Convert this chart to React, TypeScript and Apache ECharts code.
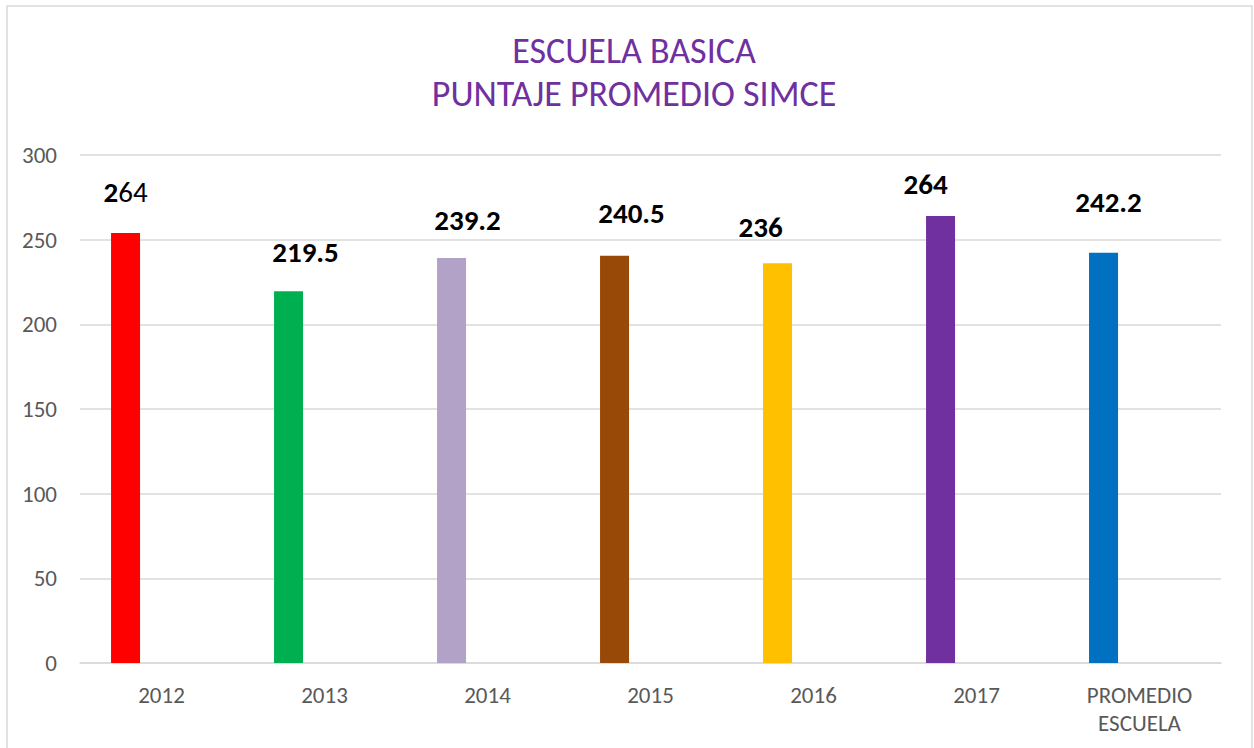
import React, { useEffect, useRef } from "react";
import * as echarts from "echarts";

const categories = ["2012", "2013", "2014", "2015", "2016", "2017", "PROMEDIO\nESCUELA"];
const values = [254, 219.5, 239.2, 240.5, 236, 264, 242.2];
const labelTexts = ["264", "219.5", "239.2", "240.5", "236", "264", "242.2"];
const barColors = ["#FF0000", "#00B050", "#B3A2C7", "#984807", "#FFC000", "#7030A0", "#0070C0"];
const yTicks = { min: 0, max: 300, interval: 50 };
const titleLines = ["ESCUELA BASICA", "PUNTAJE PROMEDIO SIMCE"];

// label placement tweaks (styling only)
const labelShift: [number, number][] = [
  [0, -26.5],
  [17, -24.5],
  [16, -23.5],
  [17, -28.5],
  [-17, -21.5],
  [-15, -17.5],
  [5, -36.5],
];

const FONT = "Carlito, Lato, 'Open Sans', sans-serif";

export default function App() {
  const ref = useRef<HTMLDivElement>(null);
  useEffect(() => {
    if (!ref.current) return;
    const chart = echarts.init(ref.current, null, { renderer: "svg" });
    const data = values.map((v, i) => ({
      value: v,
      itemStyle: { color: barColors[i] },
      label: {
        offset: labelShift[i],
        formatter: i === 0 ? "{b|2}{n|64}" : labelTexts[i],
      },
    }));
    chart.setOption({
      animation: false,
      backgroundColor: "#FFFFFF",
      title: {
        text: titleLines.join("\n"),
        left: 629,
        textAlign: "center",
        top: 24,
        textStyle: {
          color: "#7030A0",
          fontFamily: FONT,
          fontSize: 36,
          fontWeight: "normal",
          lineHeight: 43,
        },
      },
      graphic: [
        {
          type: "rect",
          shape: { x: 7, y: 6, width: 1245, height: 780 },
          style: { fill: "none", stroke: "#D9D9D9", lineWidth: 1.5 },
          silent: true,
        },
      ],
      grid: { left: 80, right: 33, top: 155, bottom: 85, containLabel: false },
      xAxis: {
        type: "category",
        data: categories,
        axisLine: { show: true, lineStyle: { color: "#D9D9D9", width: 1.5 } },
        axisTick: { show: false },
        axisLabel: {
          color: "#595959",
          fontFamily: FONT,
          fontSize: 23,
          lineHeight: 28,
          margin: 18,
          interval: 0,
          verticalAlign: "top",
        },
      },
      yAxis: {
        type: "value",
        min: yTicks.min,
        max: yTicks.max,
        interval: yTicks.interval,
        axisLine: { show: false },
        axisTick: { show: false },
        splitLine: { lineStyle: { color: "#D9D9D9", width: 1.5 } },
        axisLabel: {
          color: "#595959",
          fontFamily: FONT,
          fontSize: 23,
          margin: 23,
        },
      },
      series: [
        {
          type: "bar",
          data,
          barWidth: 29,
          barGap: "148%",
          label: {
            show: true,
            position: "top",
            distance: 0,
            color: "#000000",
            fontFamily: FONT,
            fontSize: 29,
            fontWeight: "bold",
            lineHeight: 29,
            rich: {
              b: { fontFamily: FONT, fontSize: 29, fontWeight: "bold", color: "#000", lineHeight: 29 },
              n: { fontFamily: FONT, fontSize: 29, fontWeight: "normal", color: "#000", lineHeight: 29 },
            },
          },
        },
        {
          type: "bar",
          data: values.map(() => null),
          barWidth: 29,
        },
      ],
    });
    return () => chart.dispose();
  }, []);
  return (
    <div
      ref={ref}
      style={{ position: "absolute", left: 0, top: 0, width: 1254, height: 748 }}
    />
  );
}
